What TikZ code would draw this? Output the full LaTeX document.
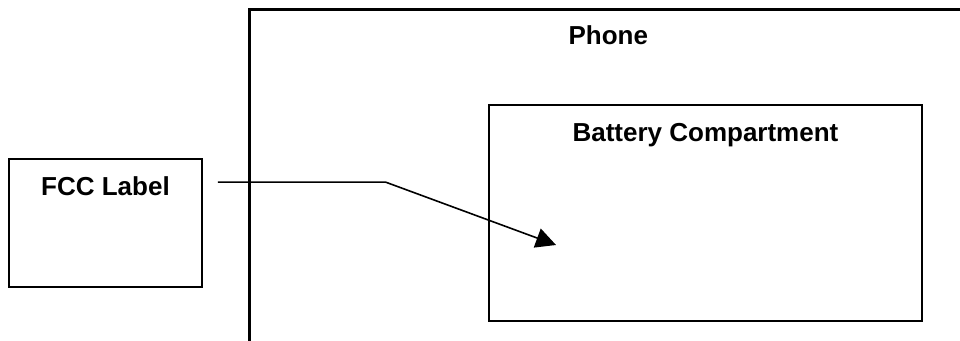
\documentclass[tikz,border=0pt]{standalone}
\usepackage{fontspec}
\setmainfont{Liberation Sans}
\usetikzlibrary{arrows.meta,positioning,calc}

\tikzset{
	box/.style={draw, line width=0.8pt, inner sep=0pt},
	title/.style={anchor=base, font=\fontsize{13}{15}\selectfont\bfseries, inner sep=0pt},
	lead/.style={line width=0.8pt, -{Triangle[length=10pt, width=10pt]}}
}

\begin{document}
\begin{tikzpicture}[x=0.5pt, y=-0.5pt]
		\useasboundingbox (0,0) rectangle (960,341);
		\clip (0,0) rectangle (960,341);
		% phone outline runs off the page at right and bottom
		\node[box, line width=1.75pt, minimum width=375.25pt, minimum height=175.35pt] (phone) at (624.75,184.65) {};
		\node[box, minimum width=216.5pt, minimum height=108pt] (battery) at (705.5,213) {};
		\node[box, minimum width=96.5pt, minimum height=64pt] (fcc) at (105.5,223) {};
		\node[title] (phonetext) at ($(phone.north west)+(360.5,37)$) {Phone};
		\node[title] (batterytext) at ($(battery.north)+(0,37)$) {Battery Compartment};
		\node[title] (fcctext) at ($(fcc.north)+(0,37)$) {FCC Label};
		\coordinate (start) at ($(fcc.north east)+(15,24)$);
		\coordinate (bend) at ($(start)+(168,0)$);
		\coordinate (tip) at (556,245);
		\draw[lead] (start) -- (bend) -- (tip);
	\end{tikzpicture}
\end{document}
